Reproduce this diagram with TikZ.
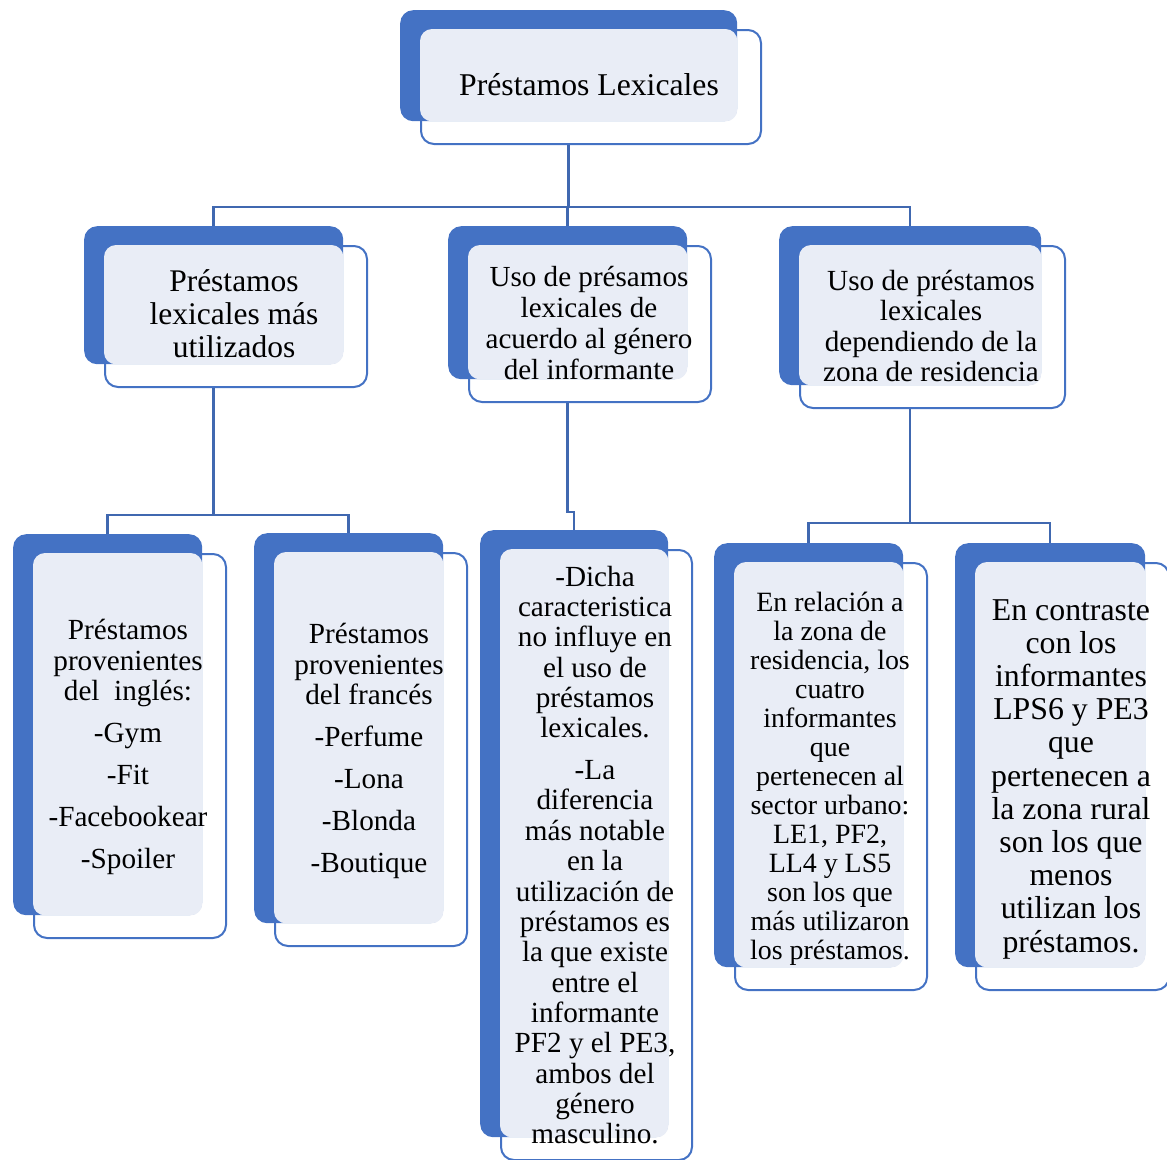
\documentclass[tikz,border=0pt]{standalone}
\usepackage{fontspec}
\setmainfont{Liberation Serif}
\definecolor{azul}{RGB}{68,114,196}
\definecolor{claro}{RGB}{233,237,246}
\definecolor{linea}{RGB}{64,104,176}
\tikzset{
  frontbox/.style={draw=azul, line width=2pt, fill=white, rounded corners=13pt, inner sep=0pt},
  backbox/.style={fill=azul, draw=none, rounded corners=13pt, inner sep=0pt},
  conn/.style={draw=linea, line width=2.5pt},
  txt/.style={align=center, inner sep=0pt, text=black},
}
\newcommand\caja[5]{%
  \pgfmathsetmacro\cw{#4-#2}\pgfmathsetmacro\ch{#5-#3}%
  \node[frontbox, minimum width=\cw pt+3pt, minimum height=\ch pt+3pt, anchor=north west] (#1f) at (#2+20,#3+19) {};
  \node[backbox, minimum width=\cw pt, minimum height=\ch pt, anchor=north west] (#1b) at (#2,#3) {};
  \fill[claro, rounded corners=12pt] (#1f.north west) rectangle (#1b.south east);
}
\begin{document}
\begin{tikzpicture}[x=1pt,y=-1pt]
\useasboundingbox (0,0) rectangle (1167,1159);
% boxes
\caja{T}{400}{10}{737}{121}
\caja{A}{84}{226}{343}{364}
\caja{B}{448}{226}{687}{379}
\caja{C}{779}{226}{1041}{385}
\caja{D}{13}{534}{202}{915}
\caja{E}{254}{533}{443}{923}
\caja{F}{480}{530}{668}{1137}
\caja{G}{714}{543}{903}{967}
\caja{H}{955}{543}{1145}{967}
% connectors
\coordinate (bus1) at (568,207);
\draw[conn] (Tb |- Tf.south) -- (Tb |- bus1);
\draw[conn] (Ab.north) -- (Ab.north |- bus1) -- (Cb.north |- bus1) -- (Cb.north);
\draw[conn] (Bb.north) -- (Bb.north |- bus1);
\coordinate (bus2) at (0,515);
\draw[conn] (Ab |- Af.south) -- (Ab |- bus2);
\draw[conn] (Db.north) -- (Db.north |- bus2) -- (Eb.north |- bus2) -- (Eb.north);
\coordinate (bus3) at (0,512);
\draw[conn] (Bb |- Bf.south) -- (Bb |- bus3) -- (Fb.north |- bus3) -- (Fb.north);
\coordinate (bus4) at (0,523);
\draw[conn] (Cb |- Cf.south) -- (Cb |- bus4);
\draw[conn] (Gb.north) -- (Gb.north |- bus4) -- (Hb.north |- bus4) -- (Hb.north);
% texts
\node[txt, font=\fontsize{31.7}{33}\selectfont] (tT) at (589,85) {Préstamos Lexicales};
\node[txt, font=\fontsize{31.5}{33}\selectfont] (tA) at (234,314) {Préstamos\\lexicales más\\utilizados};
\node[txt, font=\fontsize{29.1}{30.7}\selectfont] (tB) at (589,323) {Uso de présamos\\lexicales de\\acuerdo al género\\del informante};
\node[txt, font=\fontsize{29.2}{30.3}\selectfont] (tC) at (931,326) {Uso de préstamos\\lexicales\\dependiendo de la\\zona de residencia};
\node[txt, font=\fontsize{29.2}{30.5}\selectfont] (tD) at (128,747) {Préstamos\\provenientes\\del~ inglés:\\[11.5pt]-Gym\\[11.5pt]-Fit\\[11.5pt]-Facebookear\\[11.5pt]-Spoiler};
\node[txt, font=\fontsize{29.2}{30.5}\selectfont] (tE) at (369,751) {Préstamos\\provenientes\\del francés\\[11.5pt]-Perfume\\[11.5pt]-Lona\\[11.5pt]-Blonda\\[11.5pt]-Boutique};
\node[txt, font=\fontsize{29.2}{30.35}\selectfont] (tF) at (595,855) {-Dicha\\caracteristica\\no influye en\\el uso de\\préstamos\\lexicales.\\[11.5pt]-La\\diferencia\\más notable\\en la\\utilización de\\préstamos es\\la que existe\\entre el\\informante\\PF2 y el PE3,\\ambos del\\género\\masculino.};
\node[txt, font=\fontsize{27.9}{29}\selectfont] (tG) at (830,779) {En relación a\\la zona de\\residencia, los\\cuatro\\informantes\\que\\pertenecen al\\sector urbano:\\LE1, PF2,\\LL4 y LS5\\son los que\\más utilizaron\\los préstamos.};
\node[txt, font=\fontsize{31.8}{33.2}\selectfont] (tH) at (1071,779) {En contraste\\con los\\informantes\\LPS6 y PE3\\que\\pertenecen a\\la zona rural\\son los que\\menos\\utilizan los\\préstamos.};
\end{tikzpicture}
\end{document}
